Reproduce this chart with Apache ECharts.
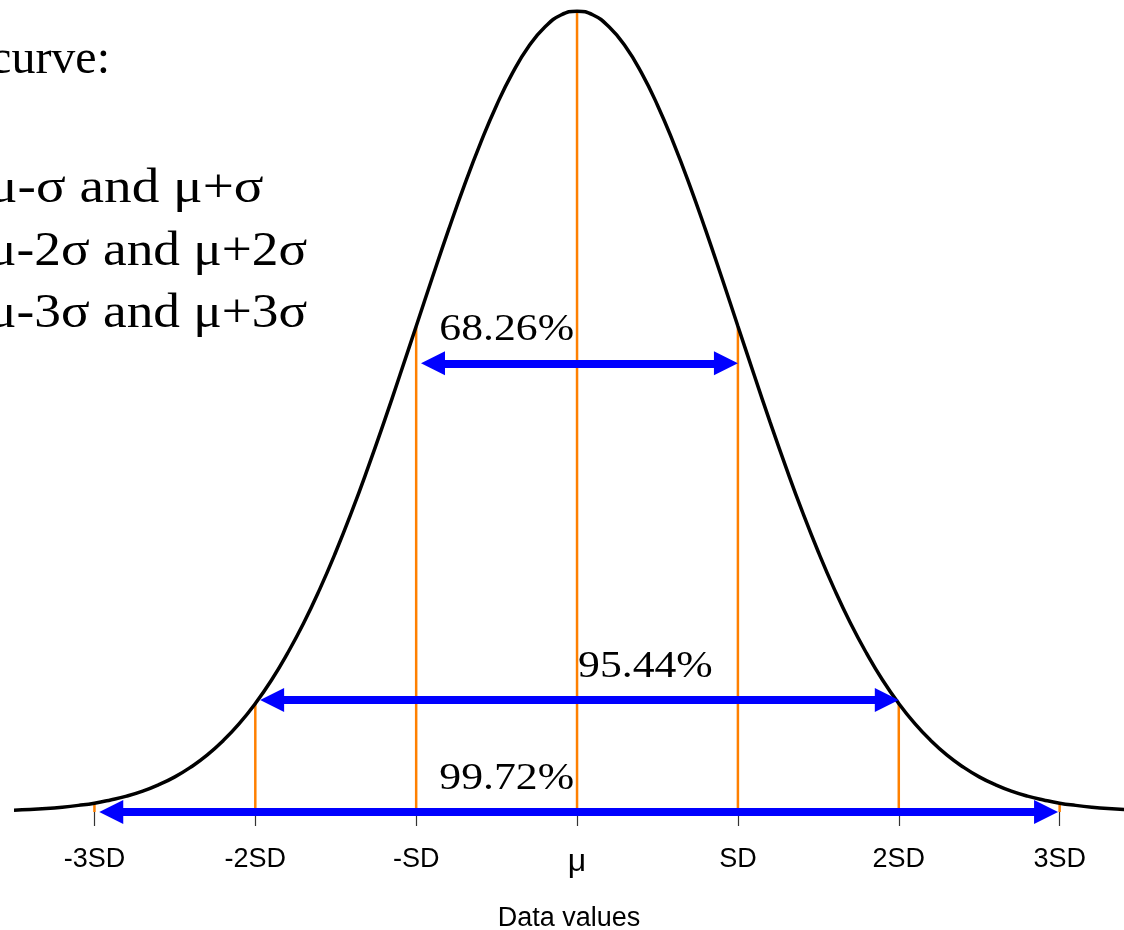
<!DOCTYPE html>
<html><head><meta charset="utf-8">
<script src="https://cdn.jsdelivr.net/npm/echarts@6/dist/echarts.min.js"></script>
<style>html,body{margin:0;padding:0;background:#fff;overflow:hidden}#c{width:1124px;height:930px}</style>
</head><body><div id="c"></div>
<script>
// Curve samples (x in SD units, height of curve)
const curveX = [-3.5,-3.4,-3.3,-3.2,-3.1,-3,-2.9,-2.8,-2.7,-2.6,-2.5,-2.4,-2.3,-2.2,-2.1,-2,-1.9,-1.8,-1.7,-1.6,-1.5,-1.4,-1.3,-1.2,-1.1,-1,-0.9,-0.8,-0.7,-0.6,-0.5,-0.4,-0.3,-0.2,-0.1,0,0.1,0.2,0.3,0.4,0.5,0.6,0.7,0.8,0.9,1,1.1,1.2,1.3,1.4,1.5,1.6,1.7,1.8,1.9,2,2.1,2.2,2.3,2.4,2.5,2.6,2.7,2.8,2.9,3,3.1,3.2,3.3,3.4,3.5];
const curveY = [0.0009,0.0012,0.0017,0.0024,0.0033,0.0044,0.0060,0.0079,0.0104,0.0136,0.0175,0.0224,0.0283,0.0355,0.0440,0.0540,0.0656,0.0790,0.0940,0.1109,0.1295,0.1497,0.1714,0.1942,0.2179,0.2420,0.2661,0.2897,0.3123,0.3332,0.3521,0.3683,0.3814,0.3910,0.3970,0.3989,0.3970,0.3910,0.3814,0.3683,0.3521,0.3332,0.3123,0.2897,0.2661,0.2420,0.2179,0.1942,0.1714,0.1497,0.1295,0.1109,0.0940,0.0790,0.0656,0.0540,0.0440,0.0355,0.0283,0.0224,0.0175,0.0136,0.0104,0.0079,0.0060,0.0044,0.0033,0.0024,0.0017,0.0012,0.0009];
// Orange guide lines at each SD
const sdX = [-3,-2,-1,0,1,2,3];
const sdHeight = [0.0044,0.0540,0.2420,0.3989,0.2420,0.0540,0.0044];
const tickLabels = ['-3SD','-2SD','-SD','μ','SD','2SD','3SD'];
// Double-headed arrows (tip positions) and their labels
const arrowStart = [-0.97,-1.97,-2.97];
const arrowEnd = [1.0,2.0,2.99];
const arrowLevel = [0.2235,0.0558,0];
const arrowLabels = ['68.26%','95.44%','99.72%'];
const labelSide = ['left','right','left'];
const noteLines = ['curve:','μ-σ and μ+σ','μ-2σ and μ+2σ','μ-3σ and μ+3σ'];

const chart = echarts.init(document.getElementById('c'), null, {renderer:'canvas'});
const option = {
  animation:false,
  backgroundColor:'#fff',
  grid:{left:14, right:0, top:9, bottom:118, containLabel:false, outerBoundsMode:'none'},
  xAxis:{
    type:'value', min:-3.5, max:3.4,
    axisLine:{show:false}, splitLine:{show:false},
    axisTick:{show:true, customValues:sdX, length:14, lineStyle:{color:'#333', width:1.2}},
    axisLabel:{customValues:sdX, margin:34, fontFamily:'Liberation Sans', fontSize:27, color:'#000',
      formatter: v => { const i = sdX.indexOf(Math.round(v)); if (i < 0) return ''; return i === 3 ? '{m|' + tickLabels[i] + '}' : tickLabels[i]; },
      rich:{m:{fontFamily:'Liberation Sans', fontSize:32, color:'#000'}}},
    name:'Data values', nameLocation:'middle', nameGap:93,
    nameTextStyle:{fontFamily:'Liberation Sans', fontSize:27, color:'#000'}
  },
  yAxis:{type:'value', min:0, max:0.4, show:false},
  series:[
    {id:'guides', type:'bar', data: sdX.map((x,i)=>[x, sdHeight[i]]), barWidth:2.5,
     itemStyle:{color:'#FF8000'}, z:1, silent:true},
    {id:'curve', type:'line', data: curveX.map((x,i)=>[x, curveY[i]]), smooth:true,
     showSymbol:false, symbol:'none', lineStyle:{color:'#000', width:3.5}, clip:false, z:2, silent:true},
    {id:'arrows', type:'lines', coordinateSystem:'cartesian2d', data:[],
     symbol:['triangle','triangle'], symbolSize:24,
     lineStyle:{color:'#0000FF', width:8, opacity:1, curveness:0}, clip:false, z:3, silent:true}
  ]
};
chart.setOption(option);

const toPx = p => chart.convertToPixel({gridIndex:0}, p);
const fromPx = p => chart.convertFromPixel({gridIndex:0}, p);
const half = 12;
const arrowData = arrowStart.map((s,i)=>{
  const a = toPx([s, arrowLevel[i]]), b = toPx([arrowEnd[i], arrowLevel[i]]);
  return {coords:[fromPx([a[0]+half, a[1]]), fromPx([b[0]-half, b[1]])]};
});
const mu = toPx([0,0])[0];
const pctGraphics = arrowLabels.map((t,i)=>{
  const y = toPx([0, arrowLevel[i]])[1] - 33;
  const left = labelSide[i] === 'left';
  return {type:'text', x: left ? mu-3 : mu+1, y: y, scaleX:1.15, z:10,
    style:{text:t, fontFamily:'Liberation Serif', fontSize:38, fill:'#000',
           align: left ? 'right' : 'left', verticalAlign:'middle'}};
});
const noteX = [110, -12, -12, -12];
const noteAlign = ['right','left','left','left'];
const noteMid = [60, 189, 252, 314];
const noteScale = [1, 1.15, 1.11, 1.11];
const noteGraphics = noteLines.map((t,i)=>({
  type:'text', x: noteX[i], y: noteMid[i], scaleX: noteScale[i], z:10,
  style:{text:t, fontFamily:'Liberation Serif', fontSize:48, fill:'#000', align:noteAlign[i], verticalAlign:'middle'}
}));
chart.setOption({
  series:[{id:'arrows', data: arrowData}],
  graphic: pctGraphics.concat(noteGraphics)
});
</script></body></html>
